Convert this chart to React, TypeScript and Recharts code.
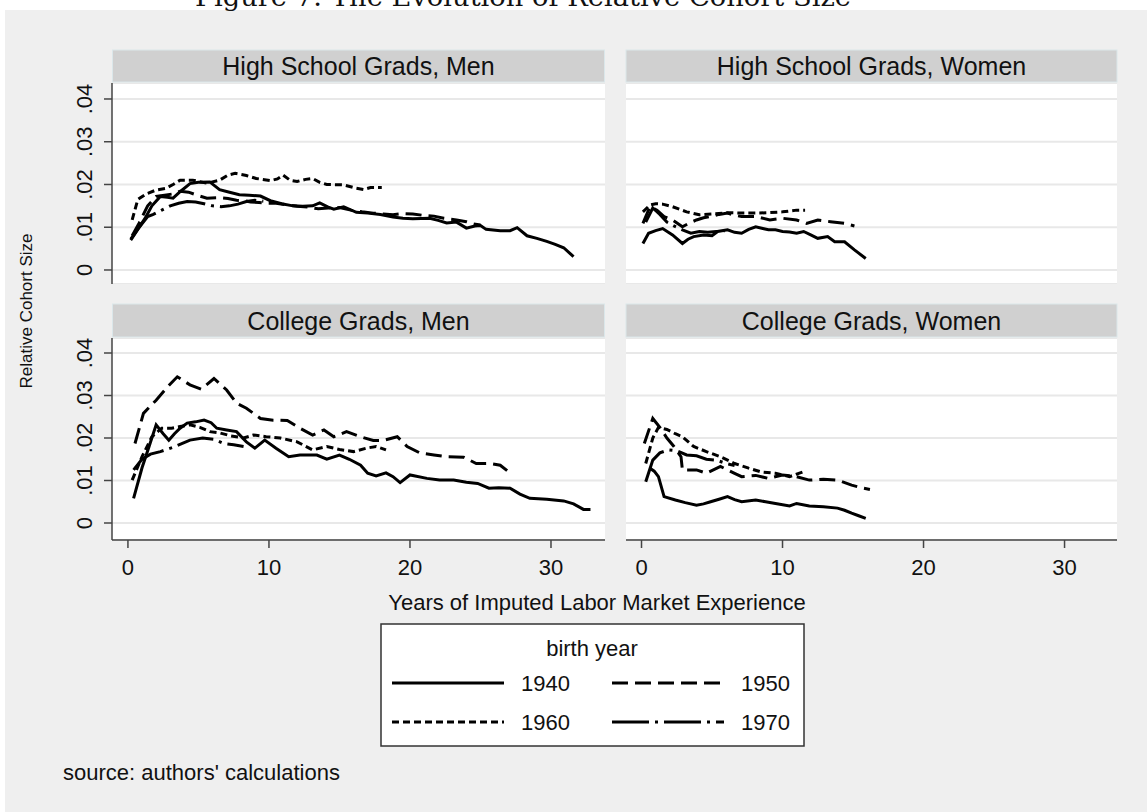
import React from 'react';
import { LineChart, Line, XAxis, YAxis, CartesianGrid } from 'recharts';

const FONT = '"Liberation Sans", Arial, sans-serif';

const cohorts = ['1940', '1950', '1960', '1970'];
const cohortDash = ['', '16 7', '7 4', '37 6 3 6'];
const yTicks = [0, 0.01, 0.02, 0.03, 0.04];
const yTickLabels = ['0', '.01', '.02', '.03', '.04'];
const xTicks = [0, 10, 20, 30];
const xTickLabels = ['0', '10', '20', '30'];
const panelTitles = ['High School Grads, Men', 'High School Grads, Women', 'College Grads, Men', 'College Grads, Women'];

// [years of experience, relative cohort size]
const hsMen1940 = [[0.2,.0070],[0.7,.0095],[1.2,.0120],[1.7,.0150],[2.3,.0172],[2.8,.0170],[3.2,.0168],[3.7,.0183],[4.4,.0202],[5.0,.0205],[5.8,.0206],[6.5,.0188],[7.2,.0182],[7.9,.0176],[8.6,.0175],[9.4,.0173],[10.1,.0162],[10.9,.0155],[11.7,.0150],[12.4,.0149],[13.1,.0150],[13.6,.0157],[14.2,.0147],[14.6,.0142],[15.3,.0148],[16.2,.0135],[17.0,.0133],[17.9,.0130],[18.8,.0124],[19.5,.0121],[20.2,.0120],[21.4,.0121],[22.0,.0116],[22.6,.0110],[23.3,.0112],[24.0,.0098],[24.6,.0103],[25.0,.0104],[25.4,.0095],[26.4,.0092],[27.1,.0092],[27.6,.0099],[28.3,.0080],[29.0,.0074],[29.7,.0067],[30.3,.0060],[30.9,.0052],[31.6,.0031]];
const hsMen1950 = [[0.3,.0080],[0.8,.0110],[1.4,.0150],[2.0,.0172],[2.6,.0175],[3.2,.0178],[3.7,.0184],[4.3,.0182],[4.9,.0175],[5.6,.0168],[6.5,.0169],[7.1,.0167],[7.7,.0163],[8.3,.0162],[8.7,.0159],[9.3,.0158],[9.8,.0156],[10.5,.0156],[11.3,.0152],[12.0,.0149],[12.8,.0147],[13.5,.0143],[14.2,.0145],[15.0,.0146],[15.8,.0140],[16.6,.0136],[17.4,.0133],[18.1,.0131],[18.8,.0129],[19.5,.0132],[20.2,.0131],[20.9,.0128],[21.7,.0126],[22.4,.0121],[23.3,.0117],[24.0,.0113],[24.5,.0108],[25.0,.0105]];
const hsMen1960 = [[0.3,.0117],[0.7,.0165],[1.3,.0178],[2.0,.0187],[2.7,.0191],[3.2,.0200],[3.7,.0210],[4.6,.0210],[5.6,.0203],[6.5,.0210],[7.1,.0222],[7.6,.0226],[8.4,.0221],[9.1,.0214],[10.1,.0209],[10.6,.0213],[11.0,.0222],[11.5,.0210],[12.0,.0207],[12.6,.0212],[13.1,.0214],[13.6,.0205],[14.1,.0200],[15.3,.0199],[16.2,.0191],[16.7,.0188],[17.2,.0193],[18.0,.0193]];
const hsMen1970 = [[0.2,.0072],[0.8,.0100],[1.4,.0125],[1.8,.0130],[2.4,.0140],[3.0,.0150],[3.6,.0156],[4.2,.0160],[4.8,.0159],[5.4,.0155],[6.0,.0150],[6.6,.0148],[7.2,.0150],[7.8,.0154],[8.4,.0160],[9.0,.0163],[9.6,.0161]];

const hsWomen1940 = [[0.1,.0062],[0.5,.0086],[1.0,.0092],[1.5,.0097],[2.2,.0082],[2.9,.0062],[3.3,.0072],[3.7,.0078],[4.4,.0082],[5.0,.0080],[5.4,.0090],[6.1,.0094],[6.6,.0088],[7.1,.0086],[7.6,.0095],[8.1,.0101],[8.6,.0097],[9.0,.0094],[9.5,.0094],[10.0,.0090],[10.5,.0089],[11.0,.0086],[11.5,.0090],[12.0,.0082],[12.5,.0074],[13.2,.0078],[13.7,.0066],[14.4,.0066],[15.1,.0047],[15.9,.0027]];
const hsWomen1950 = [[0.1,.0109],[0.6,.0148],[1.1,.0140],[1.6,.0125],[2.2,.0117],[2.9,.0101],[3.4,.0110],[3.9,.0117],[4.4,.0122],[4.9,.0125],[5.5,.0130],[6.1,.0133],[6.6,.0128],[7.1,.0125],[8.1,.0125],[9.1,.0117],[10.0,.0121],[11.0,.0117],[11.7,.0109],[12.5,.0117],[13.4,.0113],[14.4,.0109],[15.1,.0103]];
const hsWomen1960 = [[0.1,.0136],[0.6,.0152],[1.0,.0155],[1.5,.0154],[2.2,.0148],[2.7,.0142],[3.2,.0136],[4.1,.0129],[5.1,.0131],[6.1,.0134],[7.1,.0133],[8.1,.0133],[9.0,.0134],[10.0,.0136],[11.0,.0140],[11.6,.0140]];
const hsWomen1970 = [[0.3,.0112],[0.8,.0145],[1.3,.0130],[1.8,.0112],[2.3,.0103],[2.9,.0094],[3.5,.0086],[4.1,.0090],[4.7,.0088],[5.3,.0090],[5.9,.0092]];

const colMen1940 = [[0.4,.0058],[1.0,.0130],[1.5,.0180],[2.0,.0231],[2.5,.0210],[2.9,.0195],[3.3,.0210],[3.7,.0223],[4.2,.0235],[4.8,.0238],[5.4,.0242],[5.9,.0236],[6.3,.0223],[7.0,.0219],[7.7,.0215],[8.4,.0191],[9.0,.0176],[9.7,.0195],[10.5,.0176],[11.4,.0156],[12.2,.0160],[13.4,.0160],[14.1,.0150],[15.0,.0160],[15.7,.0150],[16.5,.0136],[17.0,.0117],[17.6,.0111],[18.3,.0118],[18.8,.0109],[19.3,.0095],[20.0,.0113],[21.2,.0105],[22.1,.0101],[23.1,.0101],[24.0,.0096],[24.8,.0093],[25.6,.0082],[26.3,.0083],[27.1,.0082],[27.8,.0068],[28.5,.0058],[29.7,.0056],[30.9,.0052],[31.6,.0045],[32.3,.0032],[32.8,.0032]];
const colMen1950 = [[0.5,.0187],[1.1,.0258],[2.0,.0289],[2.8,.0320],[3.5,.0344],[4.4,.0325],[5.2,.0315],[6.1,.0340],[7.0,.0313],[7.7,.0282],[8.4,.0270],[9.4,.0246],[10.3,.0242],[11.3,.0241],[12.2,.0223],[13.1,.0207],[13.9,.0219],[14.6,.0203],[15.5,.0215],[16.5,.0203],[17.4,.0194],[18.1,.0194],[19.1,.0203],[19.8,.0180],[20.7,.0165],[21.7,.0160],[22.6,.0156],[23.8,.0155],[24.7,.0140],[25.7,.0140],[26.4,.0136],[26.9,.0123]];
const colMen1960 = [[0.3,.0101],[1.0,.0156],[1.7,.0203],[2.4,.0223],[3.1,.0223],[3.7,.0227],[4.4,.0231],[5.1,.0225],[5.8,.0215],[6.5,.0212],[7.3,.0205],[8.2,.0200],[8.9,.0207],[9.8,.0203],[10.8,.0200],[12.0,.0191],[13.1,.0172],[14.1,.0180],[15.0,.0173],[16.0,.0168],[16.9,.0176],[17.6,.0180],[18.3,.0172]];
const colMen1970 = [[0.4,.0125],[1.0,.0150],[1.6,.0162],[2.3,.0168],[3.2,.0178],[4.4,.0195],[5.3,.0200],[6.1,.0197],[6.8,.0187],[7.5,.0184],[8.2,.0180]];

const colWomen1940 = [[0.6,.0129],[0.9,.0122],[1.2,.0109],[1.6,.0062],[2.4,.0054],[3.1,.0048],[3.9,.0042],[4.4,.0045],[4.9,.0050],[5.5,.0056],[6.1,.0062],[6.6,.0055],[7.1,.0050],[8.1,.0054],[8.8,.0050],[9.5,.0046],[10.5,.0040],[11.0,.0046],[11.9,.0040],[12.9,.0038],[13.9,.0035],[14.4,.0030],[14.9,.0023],[15.4,.0017],[15.9,.0011]];
const colWomen1950 = [[0.2,.0187],[0.8,.0246],[1.3,.0225],[1.8,.0200],[2.3,.0180],[2.8,.0156],[2.9,.0125],[3.9,.0125],[4.6,.0117],[5.6,.0133],[6.6,.0117],[7.1,.0109],[8.1,.0112],[9.0,.0105],[10.0,.0113],[11.0,.0109],[11.9,.0101],[12.9,.0103],[13.9,.0101],[14.9,.0089],[15.6,.0083],[16.2,.0079]];
const colWomen1960 = [[0.3,.0140],[0.8,.0200],[1.2,.0225],[1.8,.0220],[2.4,.0210],[2.9,.0203],[3.7,.0180],[4.6,.0168],[5.6,.0156],[6.6,.0140],[7.6,.0129],[8.5,.0120],[9.5,.0117],[10.5,.0109],[11.5,.0121]];
const colWomen1970 = [[0.3,.0097],[0.8,.0148],[1.3,.0165],[1.9,.0172],[2.5,.0170],[3.2,.0160],[3.9,.0158],[4.6,.0150],[5.3,.0148],[6.0,.0140],[6.6,.0135]];

const panelSeries = [
  [hsMen1940, hsMen1950, hsMen1960, hsMen1970],
  [hsWomen1940, hsWomen1950, hsWomen1960, hsWomen1970],
  [colMen1940, colMen1950, colMen1960, colMen1970],
  [colWomen1940, colWomen1950, colWomen1960, colWomen1970],
];

const toRows = (pts: number[][]) => pts.map(([x, y]) => ({ x, y }));

const YTick = (props: any) => {
  const { x, y, payload } = props;
  const i = yTicks.indexOf(payload.value);
  const bx = x - 12;
  return (
    <text x={bx} y={y} transform={`rotate(-90 ${bx} ${y})`} textAnchor="middle" fontSize={22} fill="#111" fontFamily={FONT}>
      {yTickLabels[i]}
    </text>
  );
};

const XTick = (props: any) => {
  const { x, y, payload } = props;
  const i = xTicks.indexOf(payload.value);
  return (
    <text x={x} y={y + 27} textAnchor="middle" fontSize={22} fill="#111" fontFamily={FONT}>
      {xTickLabels[i]}
    </text>
  );
};

type PanelProps = {
  idx: number; plotLeft: number; plotTop: number; plotW: number; plotH: number;
  showY: boolean; showX: boolean; xDomain: number[]; yDomain: number[];
};

const Panel = ({ idx, plotLeft, plotTop, plotW, plotH, showY, showX, xDomain, yDomain }: PanelProps) => {
  const yW = showY ? 60 : 0;
  const xH = showX ? 50 : 0;
  return (
    <div style={{ position: 'absolute', left: plotLeft - yW, top: plotTop }}>
      <LineChart width={plotW + yW} height={plotH + xH} margin={{ top: 0, right: 0, bottom: 0, left: 0 }}>
        <CartesianGrid vertical={false} stroke="#e8e8e8" strokeWidth={2} fill="#ffffff" fillOpacity={1} />
        <XAxis type="number" dataKey="x" domain={xDomain} allowDataOverflow ticks={xTicks} hide={!showX} height={xH}
          axisLine={{ stroke: '#444', strokeWidth: 1.5 }} tickLine={{ stroke: '#444', strokeWidth: 1.5 }} tickSize={8} tickMargin={0} tick={<XTick />} interval={0} />
        <YAxis type="number" domain={yDomain} allowDataOverflow ticks={yTicks} hide={!showY} width={yW}
          axisLine={{ stroke: '#444', strokeWidth: 1.5 }} tickLine={{ stroke: '#444', strokeWidth: 1.5 }} tickSize={8} tickMargin={0} tick={<YTick />} interval={0} />
        {panelSeries[idx].map((s, i) => (
          <Line key={cohorts[i]} data={toRows(s)} dataKey="y" type="linear" stroke="#000" strokeWidth={3}
            strokeDasharray={cohortDash[i] || undefined} dot={false} activeDot={false} isAnimationActive={false} />
        ))}
      </LineChart>
    </div>
  );
};

const Header = ({ x, y, w, h, text }: { x: number; y: number; w: number; h: number; text: string }) => (
  <g>
    <rect x={x} y={y} width={w} height={h} fill="#d0d0d0" stroke="#dbe7ea" strokeWidth={1} />
    <text x={x + w / 2} y={y + h / 2 + 9} textAnchor="middle" fontSize={25} fill="#111" fontFamily={FONT}>{text}</text>
  </g>
);

export default function App() {
  const topY = [-0.00328, 0.04374];
  const botY = [-0.0040, 0.04353];
  const leftX = [-1.13, 33.83];
  const rightX = [-1.10, 33.72];
  return (
    <div style={{ position: 'absolute', left: 0, top: 0, width: 1147, height: 812, background: '#fff', overflow: 'hidden' }}>
      <div style={{ position: 'absolute', left: 5, top: 10, width: 1142, height: 802, background: '#efefef' }} />
      <svg width={1147} height={812} style={{ position: 'absolute', left: 0, top: 0 }}>
        <text x={523} y={6} textAnchor="middle" fontSize={26} fontFamily='"DejaVu Serif", "Liberation Serif", serif' fill="#111"
          textLength={656} lengthAdjust="spacingAndGlyphs">Figure 7: The Evolution of Relative Cohort Size</text>
        <Header x={112.5} y={50} w={492} h={32} text={panelTitles[0]} />
        <Header x={626} y={50} w={491} h={32} text={panelTitles[1]} />
        <Header x={112.5} y={304} w={492} h={33} text={panelTitles[2]} />
        <Header x={626} y={304} w={491} h={33} text={panelTitles[3]} />
        <text x={32} y={311} transform="rotate(-90 32 311)" textAnchor="middle" fontSize={17} fill="#111" fontFamily={FONT}>Relative Cohort Size</text>
        <text x={597} y={610} textAnchor="middle" fontSize={22} fill="#111" fontFamily={FONT}>Years of Imputed Labor Market Experience</text>
        <rect x={381} y={624} width={423} height={122} fill="#fff" stroke="#333" strokeWidth={1.5} />
        <text x={592} y={656} textAnchor="middle" fontSize={22} fill="#111" fontFamily={FONT}>birth year</text>
        {cohorts.map((c, i) => {
          const col = i % 2;
          const row = Math.floor(i / 2);
          const x0 = col === 0 ? 392 : 612;
          const cy = row === 0 ? 683 : 722;
          return (
            <g key={c}>
              <line x1={x0} x2={x0 + 112} y1={cy} y2={cy} stroke="#000" strokeWidth={3} strokeDasharray={cohortDash[i] || undefined} />
              <text x={x0 + 129} y={cy + 8} fontSize={22} fill="#111" fontFamily={FONT}>{c}</text>
            </g>
          );
        })}
        <text x={63} y={780} fontSize={22} fill="#111" fontFamily={FONT}>source: authors' calculations</text>
      </svg>
      <Panel idx={0} plotLeft={112} plotTop={83} plotW={493} plotH={201} showY showX={false} xDomain={leftX} yDomain={topY} />
      <Panel idx={1} plotLeft={626} plotTop={83} plotW={491} plotH={201} showY={false} showX={false} xDomain={rightX} yDomain={topY} />
      <Panel idx={2} plotLeft={112} plotTop={338} plotW={493} plotH={202} showY showX xDomain={leftX} yDomain={botY} />
      <Panel idx={3} plotLeft={626} plotTop={338} plotW={491} plotH={202} showY={false} showX xDomain={rightX} yDomain={botY} />
    </div>
  );
}
